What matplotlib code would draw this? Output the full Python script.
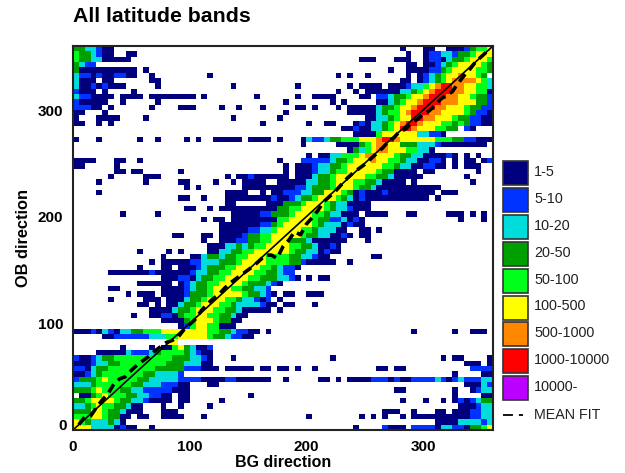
import matplotlib
matplotlib.use('Agg')
import matplotlib.pyplot as plt
import numpy as np
from matplotlib.colors import ListedColormap
from matplotlib.patches import Rectangle
from matplotlib.transforms import ScaledTranslation

plt.rcParams['font.family'] = ['Liberation Sans', 'DejaVu Sans']

# band of each 5 degree bin, 0 = empty, row 0 is the top row (OB 355-360)
# each row is a list of (first column, bands)
ROWS = [
    [(0, "4433211"), (56, "1"), (60, "11"), (64, "11124556")],
    [(0, "5443211"), (9, "11"), (57, "1"), (60, "12233"), (65, "2"), (66, "4456"), (70, "66")],
    [(0, "5443311111"), (49, "111"), (55, "111"), (60, "1221"), (64, "344566"), (70, "65")],
    [(0, "4322"), (57, "11"), (60, "11"), (62, "2345666"), (69, "654")],
    [(0, "41111111111"), (12, "1"), (54, "1"), (57, "111"), (60, "1224566"), (67, "66554")],
    [(0, "32212112211"), (13, "1"), (23, "1"), (45, "1"), (47, "1"), (50, "1"), (57, "1"), (59, "123456"), (65, "676654")],
    [(0, "3111"), (5, "11"), (13, "11"), (56, "11"), (59, "1234567"), (66, "77765"), (71, "3")],
    [(0, "3112121"), (7, "11"), (14, "1"), (27, "1"), (38, "1"), (47, "1"), (49, "1111"), (54, "11123"), (59, "3"), (60, "567887766553")],
    [(0, "2111"), (5, "1"), (10, "1"), (45, "1"), (48, "1"), (50, "111111"), (56, "3345678887766551")],
    [(0, "3221111"), (8, "1111"), (13, "11111111"), (22, "1"), (31, "1"), (38, "1"), (41, "111"), (44, "1"), (49, "11"), (52, "22344566788877665442")],
    [(0, "211111"), (8, "1"), (14, "1"), (36, "1"), (44, "1"), (46, "1"), (52, "11345667888777666442")],
    [(0, "22211"), (6, "1"), (13, "1"), (18, "111"), (25, "1"), (28, "1"), (32, "1"), (38, "11"), (41, "1"), (45, "1"), (47, "1111"), (51, "134456678887766654422")],
    [(0, "11"), (5, "1"), (36, "1"), (47, "11111"), (52, "3455678887766665422"), (71, "1")],
    [(0, "1"), (4, "1111"), (12, "1"), (27, "1"), (35, "1"), (50, "11"), (52, "33456688776"), (63, "6654422"), (70, "11")],
    [(0, "11"), (4, "1"), (6, "1"), (32, "1"), (40, "1"), (43, "11"), (48, "121"), (51, "3345678876665"), (64, "5454"), (68, "2211")],
    [(46, "11211"), (51, "33456887666"), (62, "5544"), (67, "21")],
    [(48, "1111"), (52, "5666666"), (59, "33221")],
    [(0, "1"), (4, "1"), (11, "1"), (14, "1"), (19, "1"), (21, "1"), (24, "11111"), (30, "1111"), (35, "1"), (39, "1"), (40, "322"), (43, "3445556667887"), (56, "666666"), (62, "55544"), (67, "22111")],
    [(39, "1"), (45, "1111"), (49, "456776644433"), (61, "3211"), (65, "111111")],
    [(47, "143"), (50, "5677666553"), (60, "31")],
    [(40, "1"), (42, "1133"), (46, "55567766654433"), (60, "11112"), (65, "1"), (67, "1"), (69, "1")],
    [(0, "1111"), (7, "11"), (11, "1"), (35, "1"), (39, "22222"), (44, "344566676655433"), (59, "11221"), (65, "1"), (67, "11"), (70, "12")],
    [(0, "11"), (7, "1"), (36, "1"), (38, "111"), (41, "233445666666"), (53, "55433"), (58, "11221"), (63, "1"), (65, "1"), (67, "111")],
    [(7, "11"), (10, "11"), (18, "1"), (36, "1"), (38, "111"), (41, "233455666665"), (53, "44"), (55, "1111"), (60, "11"), (69, "1")],
    [(6, "1"), (12, "111"), (26, "1"), (28, "11"), (30, "2"), (31, "11111"), (36, "1"), (38, "111"), (41, "3445666665"), (51, "54431111"), (59, "1"), (67, "1")],
    [(4, "1"), (12, "1"), (18, "11"), (24, "1"), (27, "1"), (29, "1111"), (35, "1"), (36, "1111"), (40, "334456665"), (49, "5443"), (53, "1111"), (58, "1"), (68, "1")],
    [(19, "1"), (21, "1"), (29, "1111111"), (36, "11"), (38, "22"), (40, "34445666"), (48, "5443"), (52, "11111111111")],
    [(4, "1"), (26, "1111"), (32, "1"), (34, "11"), (36, "222"), (39, "3344666"), (46, "54"), (48, "1211"), (52, "1211111111"), (63, "111")],
    [(18, "11"), (22, "1"), (26, "11111111"), (34, "21"), (36, "12344566"), (44, "6"), (45, "5"), (46, "43"), (48, "12"), (50, "1111"), (54, "1111111"), (62, "1")],
    [(26, "11"), (33, "111"), (36, "4445666"), (43, "54331111")],
    [(19, "11"), (23, "1"), (25, "1"), (26, "111111111"), (35, "4"), (36, "4556666"), (43, "5433"), (47, "2111")],
    [(8, "1"), (14, "1"), (27, "11111"), (32, "2244"), (36, "456665"), (42, "5433"), (46, "111"), (50, "1111"), (57, "11"), (64, "111"), (68, "1"), (70, "1")],
    [(22, "1"), (24, "11"), (27, "11111111"), (35, "5"), (36, "566665"), (42, "44"), (44, "2231"), (48, "21"), (66, "1"), (70, "1")],
    [(25, "1111111"), (32, "22456"), (37, "66666"), (41, "54333"), (46, "12"), (48, "11")],
    [(25, "11111"), (30, "22335"), (35, "6"), (36, "6665"), (40, "54333"), (45, "11"), (49, "11"), (52, "1")],
    [(17, "11"), (22, "11"), (25, "1111"), (29, "2445"), (33, "5666"), (37, "66"), (39, "544331121"), (49, "11")],
    [(22, "1"), (25, "111"), (28, "22445566"), (36, "64443"), (41, "111111"), (50, "1")],
    [(23, "111"), (26, "3343455666"), (36, "6554"), (40, "4"), (41, "3"), (42, "1121")],
    [(11, "1"), (16, "1"), (18, "1"), (23, "11"), (25, "33445566666"), (36, "6"), (37, "54433"), (42, "1211")],
    [(15, "1"), (20, "11"), (22, "3"), (23, "44344556665"), (34, "55"), (36, "54433"), (41, "211"), (51, "11")],
    [(13, "1"), (15, "111111"), (20, "22"), (22, "3334445666655"), (35, "5"), (36, "54421"), (41, "1111"), (47, "1")],
    [(11, "1"), (15, "11"), (18, "111"), (21, "234445566665543"), (36, "221")],
    [(6, "1111111"), (13, "2"), (14, "11111"), (19, "12334455666655443"), (36, "22")],
    [(15, "111"), (18, "22"), (20, "1"), (21, "34455666655444"), (35, "3"), (36, "321"), (40, "1"), (42, "11")],
    [(11, "11111"), (16, "1"), (18, "123445566665444321"), (35, "1")],
    [(6, "11"), (15, "1111"), (19, "234456665544332")],
    [(9, "1"), (11, "111"), (15, "1111"), (19, "2444566666"), (29, "544321"), (36, "11"), (40, "111")],
    [(6, "1"), (12, "111"), (16, "111"), (19, "344566655433212"), (35, "1")],
    [(11, "11"), (14, "1"), (16, "11"), (18, "34456665543333211"), (36, "11"), (41, "1")],
    [(13, "1111"), (17, "34456665544311111"), (35, "1")],
    [(10, "1"), (13, "1122"), (17, "1455665544311")],
    [(15, "1111"), (19, "456665441"), (28, "1")],
    [(18, "12566551"), (26, "11")],
    [(0, "1112132133"), (10, "44555"), (15, "666666"), (21, "66"), (23, "5544"), (27, "3"), (28, "22"), (29, "211"), (33, "1"), (58, "1"), (65, "1"), (68, "111")],
    [(5, "11"), (7, "222222"), (13, "33355666"), (21, "665443"), (27, "2211")],
    [(16, "66")],
    [(8, "1"), (13, "1"), (15, "11"), (17, "5643"), (21, "112")],
    [(4, "11111"), (9, "322233"), (14, "455554"), (20, "3211")],
    [(0, "2112344"), (7, "555555555544"), (19, "43321"), (27, "1"), (44, "1"), (63, "1"), (65, "11"), (71, "1")],
    [(0, "111233445555555"), (15, "5444333"), (22, "11"), (67, "111"), (71, "1")],
    [(0, "2213445555555544"), (16, "444"), (19, "2221"), (23, "11"), (26, "11111"), (32, "11"), (35, "1"), (36, "1"), (38, "1"), (41, "1"), (52, "11"), (55, "11"), (68, "2222")],
    [(0, "11234555555544"), (14, "33332"), (65, "1"), (70, "11")],
    [(0, "2444565555544"), (13, "3333322221"), (23, "111"), (26, "2"), (27, "2"), (28, "111111"), (36, "1"), (42, "11"), (45, "1"), (47, "1111"), (51, "222"), (54, "12"), (56, "11"), (58, "2222"), (62, "3212"), (66, "32"), (68, "2223"), (70, "3")],
    [(0, "3334555555443"), (13, "3322211"), (23, "11"), (67, "111"), (70, "32")],
    [(0, "44456555443"), (11, "3222221"), (18, "11"), (55, "11"), (65, "1"), (68, "12"), (70, "33")],
    [(1, "11456555443"), (12, "3221"), (16, "1"), (18, "11"), (30, "1"), (65, "1"), (70, "11")],
    [(0, "4456666544"), (10, "3321111"), (18, "11"), (25, "1"), (56, "1"), (60, "1"), (63, "1"), (65, "1212"), (69, "344")],
    [(0, "33456554"), (8, "4321"), (9, "3"), (10, "11"), (15, "1"), (18, "1"), (23, "1"), (66, "111"), (69, "233")],
    [(0, "44466544"), (8, "3"), (9, "111"), (15, "111"), (53, "111"), (58, "1"), (62, "11"), (65, "111"), (68, "22"), (70, "33")],
    [(0, "5556654411"), (11, "11"), (15, "1111"), (22, "1"), (40, "1"), (49, "1"), (51, "1"), (53, "1"), (56, "1"), (58, "1111111111"), (68, "2233")],
    [(0, "65433343"), (8, "1"), (62, "1111"), (66, "33332"), (71, "3")],
    [(0, "666333"), (6, "3121"), (10, "1"), (13, "1"), (48, "1"), (53, "2"), (54, "111"), (58, "2222"), (62, "1"), (63, "33"), (65, "2"), (66, "2"), (67, "1"), (68, "4456")],
]

BAND_COLORS = ['#00007f', '#0033ff', '#00dcdc', '#009f00', '#00ff1a',
               '#ffff00', '#ff8800', '#ff0000', '#bb00ff']
BAND_LABELS = ['1-5', '5-10', '10-20', '20-50', '50-100', '100-500',
               '500-1000', '1000-10000', '10000-']
BIN_EDGES = np.arange(0, 365, 5)

MEAN_X = [5, 10, 15, 20, 25, 30, 35, 40, 45, 50, 55, 60, 65, 70, 75, 80, 85, 90,
          95, 100, 105, 110, 115, 120, 125, 130, 135, 140, 145, 150, 155, 160,
          165, 170, 175, 180, 185, 190, 195, 200, 205, 210, 215, 220, 225, 230,
          235, 240, 245, 250, 255, 260, 265, 270, 275, 280, 285, 290, 295, 300,
          305, 310, 315, 320, 325, 330, 335, 340, 345, 350, 355]
MEAN_Y = [5, 12, 13, 21, 28, 34, 43, 48, 50, 56, 61, 65, 69, 74, 78, 82, 84, 87,
          94, 99, 104, 112, 118, 123, 127, 133, 138, 142, 146, 150, 154, 159,
          164, 164, 161, 172, 178, 186, 183, 193, 199, 206, 214, 219, 224, 230,
          236, 241, 245, 249, 254, 259, 264, 270, 274, 280, 282, 288, 291, 296,
          299, 304, 310, 314, 317, 325, 332, 338, 345, 350, 355]

grid = np.zeros((72, 72), dtype=int)
for r, row in enumerate(ROWS):
    for start, bands in row:
        for k, ch in enumerate(bands):
            if start + k < 72:
                grid[71 - r, start + k] = int(ch)
grid = np.ma.masked_equal(grid, 0)

W, H = 625.0, 473.0
fig = plt.figure(figsize=(6.25, 4.73), dpi=100)
ax = fig.add_axes([73 / W, (H - 430) / H, 420 / W, 384 / H])
cmap = ListedColormap(BAND_COLORS)
ax.pcolormesh(BIN_EDGES, BIN_EDGES, grid, cmap=cmap, vmin=0.5, vmax=9.5)
ax.plot([0, 360], [0, 360], '-k', lw=1.2)
ax.plot(MEAN_X, MEAN_Y, color='k', lw=2.6, dashes=(2.6, 1.6))
ax.set_xlim(0, 360)
ax.set_ylim(0, 360)
ax.set_xticks([0, 100, 200, 300])
ax.set_yticks([0, 100, 200, 300])
ax.tick_params(length=0, labelsize=11, pad=7)
for t in ax.get_xticklabels() + ax.get_yticklabels():
    t.set_fontweight('bold')
# the y zero label sits above the corner, closer to the frame
lab0 = ax.get_yticklabels()[0]
lab0.set_transform(lab0.get_transform() + ScaledTranslation(4 / 100, 6 / 100, fig.dpi_scale_trans))
for s in ax.spines.values():
    s.set_linewidth(1.5)
    s.set_color('#222222')
fig.text(283 / W, 1 - 462 / H, 'BG direction', ha='center', va='center', fontsize=11.5, fontweight='bold')
fig.text(24 / W, 1 - 238 / H, 'OB direction', ha='center', va='center', rotation=90, fontsize=11.8, fontweight='bold')
fig.text(73 / W, 1 - 16 / H, 'All latitude bands', ha='left', va='center', fontsize=15.3, fontweight='bold')

# legend boxes
for i, (c, lab) in enumerate(zip(BAND_COLORS, BAND_LABELS)):
    y0 = 161 + i * 26.9
    fig.patches.append(Rectangle((503 / W, 1 - (y0 + 24) / H), 25 / W, 24 / H, transform=fig.transFigure,
                                 facecolor=c, edgecolor='#333333', lw=1.2))
    fig.text(534 / W, 1 - (y0 + 11) / H, lab, ha='left', va='center', fontsize=10.4, color='#222222')
fig.add_artist(plt.Line2D([503 / W, 523 / W], [1 - 415 / H] * 2, color='k', lw=1.3, dashes=(5.5, 3.3)))
fig.text(534 / W, 1 - 415 / H, 'MEAN FIT', ha='left', va='center', fontsize=10.3, color='#222222')

fig.savefig('out.png', dpi=100)
